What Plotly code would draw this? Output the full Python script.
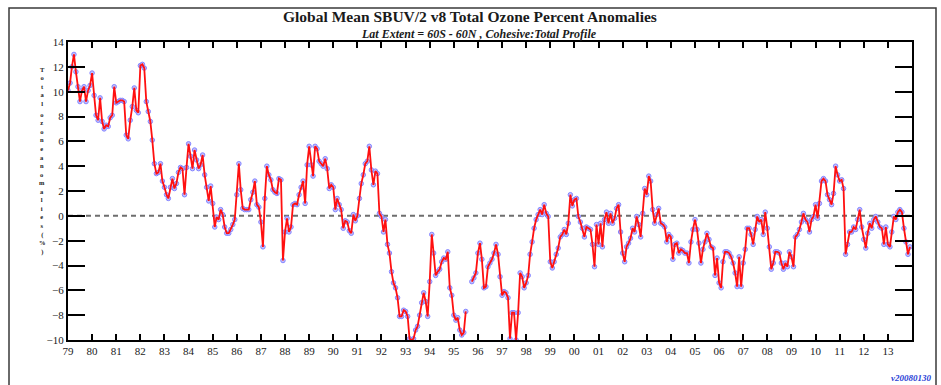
import pandas as pd
import plotly.graph_objects as go

# Monthly global-mean total ozone anomalies (%), 60S-60N, Jan 1979 - Dec 2013
ANOM_1979_1985 = [
    10.1, 10.7, 12.0, 13.0, 11.6, 10.4, 9.2, 10.1, 10.4, 9.2, 10.1, 10.5,
    11.5, 9.7, 8.1, 7.7, 9.5, 7.6, 7.0, 7.3, 7.2, 7.9, 8.1, 10.4,
    9.1, 9.2, 9.3, 9.3, 9.2, 6.5, 6.2, 7.7, 8.8, 10.3, 8.5, 8.3,
    12.1, 12.2, 11.9, 9.2, 8.4, 7.6, 6.1, 4.2, 3.4, 3.5, 4.2, 2.8,
    2.3, 1.7, 1.4, 2.3, 3.0, 2.2, 2.6, 3.5, 3.9, 3.8, 1.7, 3.9,
    5.8, 4.8, 3.8, 5.3, 4.5, 3.8, 4.1, 4.9, 3.3, 2.3, 1.2, 2.4,
    1.0, -0.9, -0.1, -0.3, 0.5, 0.1, -0.9, -1.4, -1.4, -1.1, -0.7, -0.3,
]
ANOM_1986_1992 = [
    1.7, 4.2, 2.1, 0.6, 0.5, 0.5, 0.5, 1.3, 1.9, 2.8, 0.9, 0.7,
    -0.5, -2.5, 1.4, 4.0, 3.3, 2.9, 2.1, 1.9, 1.8, 3.0, 2.9, -3.6,
    -1.3, -0.2, -1.3, -0.9, 0.9, 1.0, 0.9, 1.7, 2.3, 2.8, 1.0, 4.1,
    5.6, 4.1, 3.2, 5.6, 5.4, 4.4, 4.2, 4.0, 4.6, 3.8, 2.2, 2.5,
    2.3, 0.5, 1.4, 0.9, 0.5, -1.0, -0.4, -0.5, -1.2, -1.4, 0.1, -0.4,
    0.0, 1.4, 2.6, 3.3, 4.2, 4.4, 5.6, 3.7, 2.5, 3.6, 3.4, 0.2,
    -0.05, -1.3, -0.3, -2.3, -3.0, -4.5, -5.4, -5.8, -6.6, -8.1, -8.1, -7.6,
]
ANOM_1993_1999 = [
    -7.7, -8.1, -9.9, -10.0, -9.9, -9.2, -8.9, -8.0, -7.0, -6.2, -6.9, -8.1,
    -5.3, -1.5, -3.0, -4.8, -4.5, -4.3, -3.7, -3.4, -3.5, -2.9, -5.8, -6.4,
    -8.0, -8.4, -8.2, -9.2, -9.6, -9.4, -7.7, None, None, -5.3, -5.0, -4.6,
    -3.0, -2.2, -3.5, -5.8, -5.7, -4.1, -3.8, -3.5, -3.0, -2.3, -3.1, -4.9,
    -6.4, -6.1, -6.2, -6.6, -9.9, -7.8, -7.8, -10.0, -7.8, -4.6, -4.9, -5.8,
    -5.4, -4.8, -3.1, -2.1, -1.0, -0.3, 0.1, 0.5, 0.1, 0.9, 0.2, -0.05,
    -3.7, -4.2, -3.7, -3.1, -2.6, -1.7, -1.5, -1.1, -1.5, -0.6, 1.7, 0.8,
]
ANOM_2000_2006 = [
    1.3, 1.4, -0.05, -0.5, -1.0, -1.7, -0.9, -1.0, -1.1, -2.3, -4.1, -0.7,
    -2.3, -0.6, -2.5, -0.3, 0.3, -0.6, 0.2, -0.6, -0.2, 0.6, 0.9, -1.3,
    -3.0, -3.7, -2.5, -2.2, -1.8, -1.0, -1.3, -0.05, -0.7, -1.7, 0.2, 2.2,
    1.7, 3.2, 2.8, 0.5, -0.6, 0.1, 0.6, -0.6, -0.7, -0.9, -2.1, -1.5,
    -1.7, -3.5, -2.3, -2.2, -3.0, -2.7, -2.8, -3.0, -3.0, -3.8, -2.1, -1.1,
    -0.3, -1.1, -2.2, -3.8, -2.7, -2.1, -1.4, -1.9, -2.5, -2.6, -4.8, -3.4,
    -5.4, -5.8, -3.7, -2.9, -2.9, -3.0, -3.3, -3.8, -4.6, -5.7, -3.3, -5.7,
]
ANOM_2007_2013 = [
    -3.8, -2.7, -1.0, -1.0, -1.5, -2.3, -1.1, -0.05, -0.5, -0.3, -1.5, 0.3,
    -1.0, -2.5, -4.3, -3.8, -2.9, -2.9, -3.0, -3.8, -4.3, -3.8, -4.1, -2.9,
    -3.3, -4.1, -1.7, -1.5, -1.1, -0.5, 0.2, -0.3, -0.5, -1.3, -0.3, -0.05,
    0.9, -0.2, 1.0, 2.8, 3.0, 2.8, 1.7, 1.3, 0.9, 1.8, 4.0, 3.3,
    2.8, 2.9, 2.2, -3.1, -2.3, -1.3, -1.3, -0.9, -1.1, -0.3, 0.5, -0.9,
    -1.9, -2.6, -1.4, -0.6, -1.0, -0.3, -0.05, -0.5, -0.9, -1.0, -2.3, -0.9,
    -2.3, -2.5, -1.3, -0.05, -0.3, 0.3, 0.5, 0.3, -1.0, -2.1, -3.1, -2.5,
]

FIRST_MONTH = "1979-01-01"
YEAR_LABELS = ["79", "80", "81", "82", "83", "84", "85", "86", "87", "88",
               "89", "90", "91", "92", "93", "94", "95", "96", "97", "98",
               "99", "00", "01", "02", "03", "04", "05", "06", "07", "08",
               "09", "10", "11", "12", "13"]
Y_TICKS = [-10, -8, -6, -4, -2, 0, 2, 4, 6, 8, 10, 12, 14]

TITLE = "Global Mean SBUV/2 v8 Total Ozone Percent Anomalies"
SUBTITLE = "Lat Extent = 60S - 60N , Cohesive:Total Profile"
Y_TITLE_WORDS = ["Total", "ozone", "anomalies", "(%)"]
VERSION_TAG = "v20080130"

anomaly = ANOM_1979_1985 + ANOM_1986_1992 + ANOM_1993_1999 + ANOM_2000_2006 + ANOM_2007_2013
months = pd.date_range(FIRST_MONTH, periods=len(anomaly), freq="MS")
year_ticks = pd.date_range(FIRST_MONTH, periods=len(YEAR_LABELS), freq="YS")

W, H = 941, 385
M_L, M_R, M_T, M_B = 68, 29, 42, 45
PW, PH = W - M_L - M_R, H - M_T - M_B


def px_x(x):
    return (x - M_L) / PW


def px_y(y):
    return (H - M_B - y) / PH


SERIF = "Liberation Serif"

fig = go.Figure()

# vertex markers underneath the red polyline
fig.add_trace(go.Scatter(
    x=months, y=anomaly, mode="markers",
    marker=dict(symbol="circle", size=4.5, color="rgba(185,185,255,0.9)",
                line=dict(color="#8585ff", width=1)),
    hoverinfo="skip", showlegend=False, cliponaxis=True,
))
fig.add_trace(go.Scatter(
    x=months, y=anomaly, mode="lines",
    line=dict(color="#ff1010", width=1.8),
    connectgaps=False, showlegend=False, cliponaxis=True,
))

# zero reference line
fig.add_shape(type="line", xref="paper", yref="y", x0=0, x1=1, y0=0, y1=0,
              line=dict(color="#6e6e6e", width=2, dash="5px,4px"), layer="below")

# outer frame round the whole graphic
fig.add_shape(type="rect", xref="paper", yref="paper",
              x0=px_x(9), x1=px_x(936), y0=px_y(395), y1=px_y(8),
              line=dict(color="#3a3a3a", width=1.5), fillcolor="rgba(0,0,0,0)")

annotations = [
    dict(text="<b>" + TITLE + "</b>", xref="paper", yref="paper",
         x=px_x(470), y=px_y(16), xanchor="center", yanchor="middle",
         showarrow=False, borderpad=0,
         font=dict(family=SERIF, size=15.5, color="#1a1a1a")),
    dict(text="<b><i>" + SUBTITLE + "</i></b>", xref="paper", yref="paper",
         x=px_x(479), y=px_y(34), xanchor="center", yanchor="middle",
         showarrow=False, borderpad=0,
         font=dict(family=SERIF, size=12, color="#1a1a1a")),
    dict(text="<b><i>" + VERSION_TAG + "</i></b>", xref="paper", yref="paper",
         x=px_x(933), y=px_y(378), xanchor="right", yanchor="middle",
         showarrow=False, font=dict(family=SERIF, size=9, color="#2a3fd6")),
]

# vertical axis title: each word stacked one upright letter per line
word_centres = [87, 131, 191, 243]
for word, yc in zip(Y_TITLE_WORDS, word_centres):
    annotations.append(dict(
        text="<b>" + "<br>".join(word) + "</b>", xref="paper", yref="paper",
        x=px_x(42), y=px_y(yc), xanchor="center", yanchor="middle",
        align="center", showarrow=False, borderpad=0,
        font=dict(family=SERIF, size=6.5, color="#1a1a1a")))

fig.update_layout(
    width=W, height=H,
    margin=dict(l=M_L, r=M_R, t=M_T, b=M_B, pad=0),
    paper_bgcolor="white", plot_bgcolor="white",
    showlegend=False,
    annotations=annotations,
    xaxis=dict(
        type="date", range=[FIRST_MONTH, "2014-01-01"],
        tickvals=year_ticks, ticktext=YEAR_LABELS,
        ticks="inside", ticklen=6, tickwidth=1.5, tickcolor="black",
        showline=True, linecolor="black", linewidth=2, mirror="ticks",
        showgrid=False, zeroline=False,
        tickfont=dict(family=SERIF, size=11, color="#1a1a1a"),
    ),
    yaxis=dict(
        range=[-10, 14], tickvals=Y_TICKS,
        ticks="inside", ticklen=17, tickwidth=2, tickcolor="black",
        showline=True, linecolor="black", linewidth=2, mirror="ticks",
        showgrid=False, zeroline=False,
        tickfont=dict(family=SERIF, size=11, color="#1a1a1a"),
    ),
)

fig.write_html("out.html")
